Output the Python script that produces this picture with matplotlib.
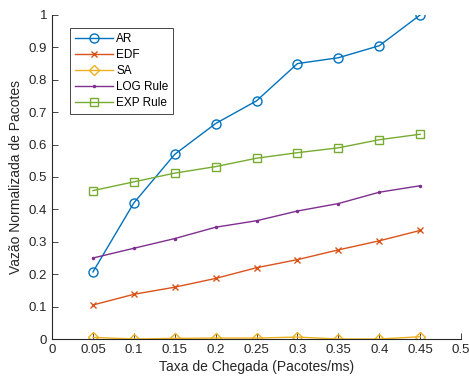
import numpy as np
import matplotlib
matplotlib.use('Agg')
import matplotlib.pyplot as plt

plt.rcParams['font.family'] = ['Liberation Sans', 'DejaVu Sans']

taxa = [0.05, 0.1, 0.15, 0.2, 0.25, 0.3, 0.35, 0.4, 0.45]
ar = [0.207, 0.42, 0.57, 0.665, 0.735, 0.85, 0.868, 0.905, 1.0]
edf = [0.105, 0.138, 0.16, 0.187, 0.22, 0.245, 0.275, 0.303, 0.335]
sa = [0.005, 0.0, 0.002, 0.003, 0.003, 0.006, 0.0, 0.0, 0.007]
log_rule = [0.25, 0.28, 0.31, 0.345, 0.365, 0.395, 0.418, 0.453, 0.473]
exp_rule = [0.458, 0.485, 0.512, 0.532, 0.558, 0.575, 0.59, 0.615, 0.632]

fig = plt.figure(figsize=(4.69, 3.79), dpi=100)
ax = fig.add_axes([0.111, 0.1055, 0.872, 0.855])

ax.plot(taxa, ar, marker='o', ls='-', color='#0072BD', lw=1, ms=6.5, mfc='none', label='AR')
ax.plot(taxa, edf, marker='x', ls='-', color='#D95319', lw=1, ms=4.5, label='EDF')
ax.plot(taxa, sa, marker='D', ls='-', color='#EDB120', lw=1, ms=5.5, mfc='none', label='SA')
ax.plot(taxa, log_rule, marker='.', ls='-', color='#7E2F8E', lw=1, ms=3, label='LOG Rule')
ax.plot(taxa, exp_rule, marker='s', ls='-', color='#77AC30', lw=1, ms=5.5, mfc='none', label='EXP Rule')

ax.set_xlim(0, 0.5)
ax.set_ylim(0, 1)
ax.set_xticks(np.arange(0, 0.51, 0.05))
ax.set_xticklabels(['0', '0.05', '0.1', '0.15', '0.2', '0.25', '0.3', '0.35', '0.4', '0.45', '0.5'])
ax.set_yticks(np.arange(0, 1.01, 0.1))
ax.set_yticklabels(['0', '0.1', '0.2', '0.3', '0.4', '0.5', '0.6', '0.7', '0.8', '0.9', '1'])
ax.tick_params(direction='in', labelsize=9.5, length=4, width=0.6, colors='#262626')
ax.spines['top'].set_visible(False)
ax.spines['right'].set_visible(False)
for s in ['left', 'bottom']:
    ax.spines[s].set_color('#262626')
    ax.spines[s].set_linewidth(0.8)
ax.set_xlabel('Taxa de Chegada (Pacotes/ms)', fontsize=10, color='#262626', labelpad=3)
ax.set_ylabel('Vazão Normalizada de Pacotes', fontsize=10, color='#262626')

leg = ax.legend(loc='upper left', bbox_to_anchor=(0.044, 0.96), borderaxespad=0, fontsize=8.5,
                fancybox=False, edgecolor='#262626', framealpha=1,
                handlelength=3.2, borderpad=0.4, labelspacing=0.35, handletextpad=0.3)
leg.get_frame().set_linewidth(0.6)

fig.savefig('out.png', dpi=100)
